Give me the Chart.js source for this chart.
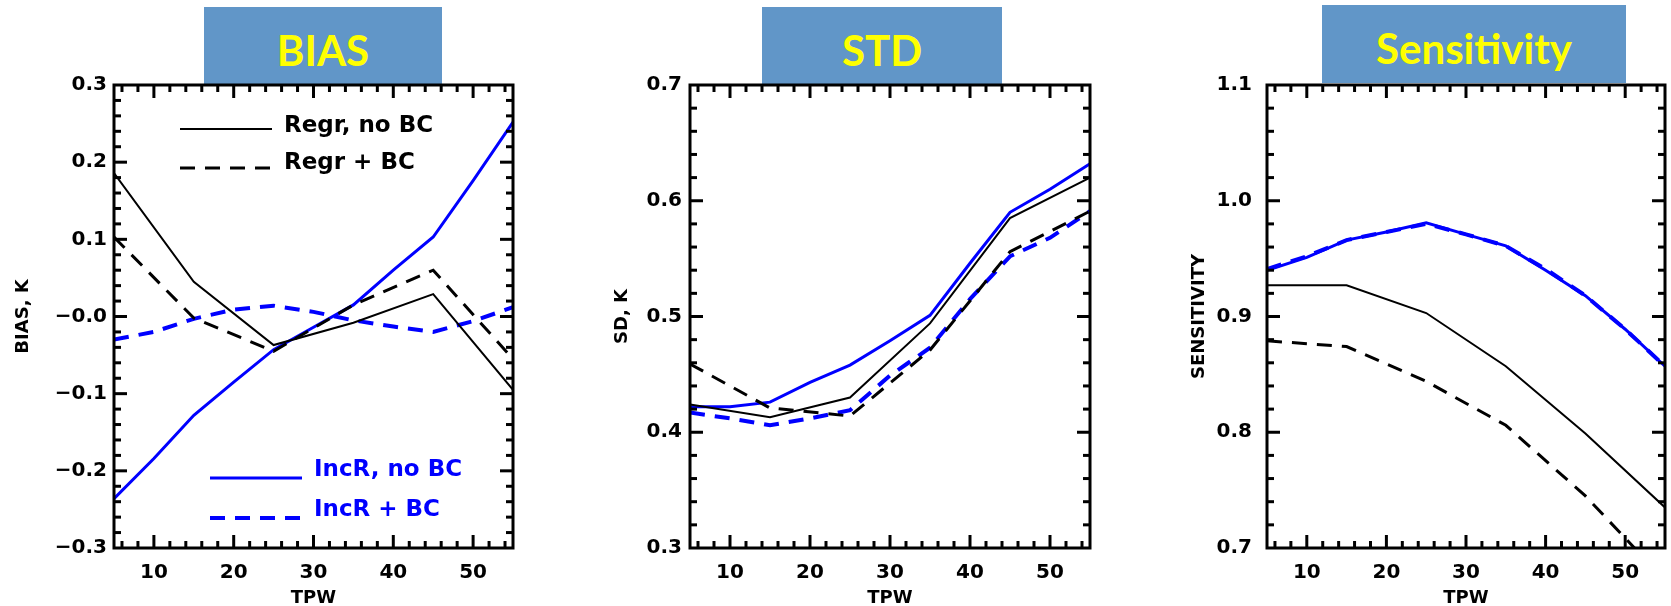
<!DOCTYPE html>
<html>
<head>
<meta charset="utf-8">
<title>BIAS / STD / Sensitivity vs TPW</title>
<script src="https://cdn.jsdelivr.net/npm/chart.js@4.4.1/dist/chart.umd.min.js"></script>
<style>
  html, body { margin: 0; padding: 0; background: #fff; }
  #wrap { position: relative; width: 1671px; height: 606px; overflow: hidden; }
  canvas { position: absolute; top: 0; }
  .tag {
    position: absolute; background: #6196c8; color: #ffff00;
    font: bold 42px Lato, "Open Sans", sans-serif;
    display: flex; align-items: center; justify-content: center;
    box-sizing: border-box; padding-top: 8px;
  }
</style>
</head>
<body>
<div id="wrap">
  <div class="tag" style="left:204px;top:7px;width:238px;height:77px">BIAS</div>
  <div class="tag" style="left:762px;top:7px;width:240px;height:77px">STD</div>
  <div class="tag" style="left:1322px;top:5px;width:304px;height:78px">Sensitivity</div>
  <canvas id="bias" width="560" height="606" style="left:0"></canvas>
  <canvas id="std" width="560" height="606" style="left:560px"></canvas>
  <canvas id="sens" width="551" height="606" style="left:1120px"></canvas>
</div>
<script>
// TPW bins (coarse for regression curves, fine for the incremental ones)
const tpw = [5, 15, 25, 35, 45, 55];
const tpwFine = [5, 10, 15, 20, 25, 30, 35, 40, 45, 50, 55];
const tpwTicks = [10, 20, 30, 40, 50];

const seriesNames = ["Regr, no BC", "Regr + BC", "IncR, no BC", "IncR + BC"];

// BIAS, K
const biasRegrNoBC = [0.186, 0.045, -0.037, -0.008, 0.029, -0.095];
const biasRegrBC = [0.103, -0.002, -0.045, 0.015, 0.060, -0.055];
const biasIncRNoBC = [-0.236, -0.184, -0.128, -0.085, -0.043, -0.014, 0.015, 0.060, 0.103, 0.176, 0.252];
const biasIncRBC = [-0.030, -0.020, -0.003, 0.009, 0.014, 0.006, -0.005, -0.013, -0.020, -0.006, 0.012];
const biasTicks = [-0.3, -0.2, -0.1, 0, 0.1, 0.2, 0.3];
const biasTickLabels = ["\u22120.3", "\u22120.2", "\u22120.1", "\u22120.0", "0.1", "0.2", "0.3"];

// SD, K
const stdRegrNoBC = [0.424, 0.413, 0.430, 0.494, 0.585, 0.620];
const stdRegrBC = [0.459, 0.421, 0.414, 0.471, 0.556, 0.591];
const stdIncRNoBC = [0.422, 0.422, 0.426, 0.443, 0.458, 0.479, 0.501, 0.546, 0.590, 0.610, 0.632];
const stdIncRBC = [0.417, 0.412, 0.406, 0.412, 0.419, 0.449, 0.473, 0.515, 0.552, 0.568, 0.591];
const stdTicks = [0.3, 0.4, 0.5, 0.6, 0.7];
const stdTickLabels = ["0.3", "0.4", "0.5", "0.6", "0.7"];

// SENSITIVITY
const sensRegrNoBC = [0.927, 0.927, 0.903, 0.857, 0.799, 0.735];
const sensRegrBC = [0.879, 0.874, 0.844, 0.806, 0.745, 0.672];
const sensIncRNoBC = [0.940, 0.951, 0.966, 0.973, 0.981, 0.971, 0.961, 0.940, 0.918, 0.889, 0.857];
const sensIncRBC = [0.941, 0.952, 0.966, 0.973, 0.980, 0.971, 0.961, 0.941, 0.918, 0.889, 0.857];
const sensTicks = [0.7, 0.8, 0.9, 1.0, 1.1];
const sensTickLabels = ["0.7", "0.8", "0.9", "1.0", "1.1"];

const lineStyles = [
    {color: "#000000", width: 2, dash: []},
    {color: "#000000", width: 3, dash: [15, 10]},
    {color: "#0000ff", width: 3, dash: []},
    {color: "#0000ff", width: 4, dash: [15, 10]}
];

const tickFont = {family: "DejaVu Sans", weight: "bold", size: 20};
const titleFont = {family: "DejaVu Sans", weight: "bold", size: 18};

function pairs(xs, ys) {
    return xs.map((x, i) => ({x: x, y: ys[i]}));
}

function tick(ctx, x0, y0, x1, y1) {
    ctx.beginPath();
    ctx.moveTo(x0, y0);
    ctx.lineTo(x1, y1);
    ctx.stroke();
}

// IDL-like frame: thick box with inward major/minor ticks on all four sides, optional inset legend
const idlFrame = {
    id: "idlFrame",
    afterDraw(chart, args, opts) {
        const {ctx, chartArea: a} = chart;
        const xs = chart.scales.x, ys = chart.scales.y;
        ctx.save();
        ctx.setLineDash([]);
        ctx.lineCap = "butt";
        ctx.strokeStyle = "#000000";
        ctx.lineWidth = 3;
        for (let v = 6; v <= 54; v += 2) {
            const px = xs.getPixelForValue(v);
            const len = v % 10 === 0 ? 13 : 7;
            tick(ctx, px, a.bottom, px, a.bottom - len);
            tick(ctx, px, a.top, px, a.top + len);
        }
        const step = 0.02;
        const n = Math.round((ys.max - ys.min) / step);
        for (let i = 1; i < n; i++) {
            const py = ys.getPixelForValue(ys.min + i * step);
            const len = i % 5 === 0 ? 13 : 7;
            tick(ctx, a.left, py, a.left + len, py);
            tick(ctx, a.right, py, a.right - len, py);
        }
        ctx.strokeRect(a.left, a.top, a.right - a.left, a.bottom - a.top);

        const rows = opts.legend || [];
        ctx.font = "bold 23px 'DejaVu Sans'";
        ctx.textBaseline = "middle";
        ctx.textAlign = "left";
        rows.forEach(row => {
            const ds = chart.data.datasets[row.index];
            ctx.strokeStyle = ds.borderColor;
            ctx.lineWidth = ds.borderWidth;
            ctx.setLineDash(ds.borderDash);
            tick(ctx, a.left + row.x0, a.top + row.ly, a.left + row.x1, a.top + row.ly);
            ctx.setLineDash([]);
            ctx.fillStyle = ds.borderColor;
            ctx.fillText(ds.label, a.left + row.tx, a.top + row.ty);
        });
        ctx.restore();
    }
};

function makePanel(el, cfg) {
    const datasets = cfg.series.map((s, i) => ({
        label: seriesNames[i],
        data: pairs(s.x, s.y),
        showLine: true,
        borderColor: lineStyles[i].color,
        borderWidth: lineStyles[i].width,
        borderDash: lineStyles[i].dash,
        pointRadius: 0,
        tension: 0,
        fill: false
    }));

    return new Chart(el, {
        type: "scatter",
        data: {datasets: datasets},
        options: {
            responsive: false,
            animation: false,
            layout: {padding: {top: 85, right: cfg.padRight, left: 0, bottom: 0}},
            plugins: {
                legend: {display: false},
                tooltip: {enabled: false},
                idlFrame: {legend: cfg.legend}
            },
            scales: {
                x: {
                    type: "linear", min: 5, max: 55,
                    grid: {display: false, drawTicks: false},
                    border: {display: false},
                    afterBuildTicks: s => { s.ticks = tpwTicks.map(v => ({value: v})); },
                    afterFit: s => { s.height = 58; },
                    ticks: {font: tickFont, color: "#000", padding: 13, maxRotation: 0, autoSkip: false,
                        callback: (v, i) => String(tpwTicks[i])},
                    title: {display: true, text: "TPW", font: titleFont, color: "#000", padding: {top: 0, bottom: -3}}
                },
                y: {
                    type: "linear", min: cfg.ticks[0], max: cfg.ticks[cfg.ticks.length - 1],
                    grid: {display: false, drawTicks: false},
                    border: {display: false},
                    afterBuildTicks: s => { s.ticks = cfg.ticks.map(v => ({value: v})); },
                    afterFit: s => { s.width = cfg.axisWidth; },
                    ticks: {font: tickFont, color: "#000", padding: cfg.labelPad, autoSkip: false,
                        callback: (v, i) => cfg.labels[i]},
                    title: {display: true, text: cfg.yTitle, font: titleFont, color: "#000",
                        padding: {top: cfg.titlePad, bottom: 0}}
                }
            }
        },
        plugins: [idlFrame]
    });
}

makePanel(document.getElementById("bias"), {
    series: [
        {x: tpw, y: biasRegrNoBC},
        {x: tpw, y: biasRegrBC},
        {x: tpwFine, y: biasIncRNoBC},
        {x: tpwFine, y: biasIncRBC}
    ],
    ticks: biasTicks, labels: biasTickLabels, yTitle: "BIAS, K",
    axisWidth: 114, padRight: 47, labelPad: 7, titlePad: 13,
    legend: [
        {index: 0, x0: 66, x1: 158, ly: 44, tx: 170, ty: 41},
        {index: 1, x0: 66, x1: 158, ly: 83, tx: 170, ty: 78},
        {index: 2, x0: 96, x1: 188, ly: 393, tx: 200, ty: 385},
        {index: 3, x0: 96, x1: 188, ly: 433, tx: 200, ty: 425}
    ]
});

makePanel(document.getElementById("std"), {
    series: [
        {x: tpw, y: stdRegrNoBC},
        {x: tpw, y: stdRegrBC},
        {x: tpwFine, y: stdIncRNoBC},
        {x: tpwFine, y: stdIncRBC}
    ],
    ticks: stdTicks, labels: stdTickLabels, yTitle: "SD, K",
    axisWidth: 130, padRight: 30, labelPad: 8, titlePad: 52
});

makePanel(document.getElementById("sens"), {
    series: [
        {x: tpw, y: sensRegrNoBC},
        {x: tpw, y: sensRegrBC},
        {x: tpwFine, y: sensIncRNoBC},
        {x: tpwFine, y: sensIncRBC}
    ],
    ticks: sensTicks, labels: sensTickLabels, yTitle: "SENSITIVITY",
    axisWidth: 147, padRight: 6, labelPad: 15, titlePad: 69
});
</script>
</body>
</html>
